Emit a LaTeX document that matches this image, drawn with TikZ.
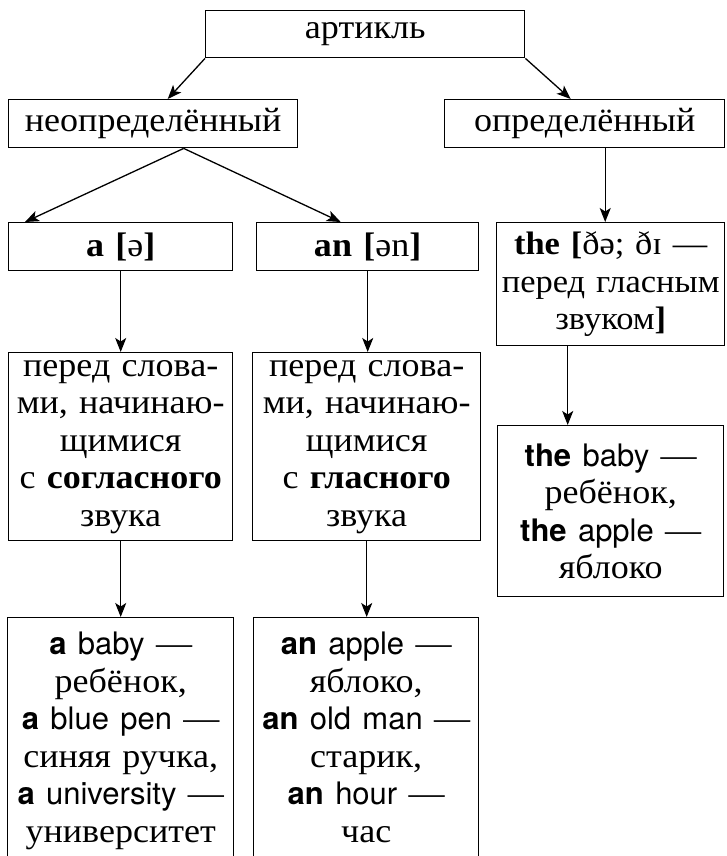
\documentclass[tikz,border=0pt]{standalone}
\usepackage{fontspec}
\setmainfont[FakeStretch=1.06]{Liberation Serif}
\newfontfamily\ensans{TeX Gyre Heros}
\usetikzlibrary{arrows.meta}
\newcommand\engl[1]{{\ensans\fontsize{31}{37.5}\selectfont #1}}
\newcommand\englb[1]{{\ensans\bfseries\fontsize{31}{37.5}\selectfont #1}}
\begin{document}
\begin{tikzpicture}[x=1pt,y=-1pt,
  box/.style={draw, line width=1.4pt, inner sep=0pt, anchor=north west, align=center,
    font=\fontsize{34}{37.5}\selectfont},
  arr/.style={line width=1.3pt, -{Stealth[length=14pt,width=11pt,inset=3.5pt]}}]
\useasboundingbox (0,0) rectangle (727,856);
\clip (0,0) rectangle (727,856);
\node[box, text width=319pt, minimum height=47pt] (art) at (205,10) {артикль};
\node[box, text width=289pt, minimum height=48pt] (neo) at (8,99) {неопределённый};
\node[box, text width=280pt, minimum height=48pt] (opr) at (444,99) {определённый};
\node[box, text width=224pt, minimum height=48pt] (a) at (8,222) {\textbf{a [}ə\textbf{]}};
\node[box, text width=222pt, minimum height=48pt] (an) at (256,222) {\textbf{an [}ən\textbf{]}};
\node[box, text width=228pt, minimum height=123pt, font=\fontsize{32.5}{37.5}\selectfont] (the) at (496,222)
  {\textbf{the [}ðə; ðɪ —\\перед гласным\\звуком\textbf{]}};
\node[box, text width=224pt, minimum height=188pt] (atx) at (8,352)
  {перед слова-\\ми, начинаю-\\щимися\\с \textbf{согласного}\\звука};
\node[box, text width=228pt, minimum height=188pt] (antx) at (252,352)
  {перед слова-\\ми, начинаю-\\щимися\\с \textbf{гласного}\\звука};
\node[box, text width=226pt, minimum height=171pt] (thex) at (497,425)
  {\englb{the} \engl{baby} —\\ребёнок,\\\englb{the} \engl{apple} —\\яблоко};
\node[box, text width=226pt, minimum height=276pt] (aex) at (7,617)
  {\englb{a} \engl{baby} —\\ребёнок,\\\englb{a} \engl{blue pen} —\\синяя ручка,\\\englb{a} \engl{university} —\\университет\\\mbox{}};
\node[box, text width=225pt, minimum height=276pt] (anex) at (253,617)
  {\englb{an} \engl{apple} —\\яблоко,\\\englb{an} \engl{old man} —\\старик,\\\englb{an} \engl{hour} —\\час\\\mbox{}};
\draw[arr] (art.south west) -- ([xshift=14.5pt]neo.north);
\draw[arr] (art.south east) -- ([xshift=-14pt]opr.north);
\draw[arr] ([xshift=30.5pt]neo.south) -- ([xshift=17pt]a.north west);
\draw[arr] ([xshift=30.5pt]neo.south) -- ([xshift=-27pt]an.north);
\draw[arr] ([xshift=-5.5pt]the.north |- opr.south) -- ([xshift=-5.5pt]the.north);
\draw[arr] ([xshift=-43pt]the.south) -- ([xshift=-43pt]the.south |- thex.north);
\draw[arr] (a.south) -- (a.south |- atx.north);
\draw[arr] (an.south) -- (an.south |- antx.north);
\draw[arr] (atx.south) -- (atx.south |- aex.north);
\draw[arr] (antx.south) -- (antx.south |- anex.north);
\end{tikzpicture}
\end{document}
